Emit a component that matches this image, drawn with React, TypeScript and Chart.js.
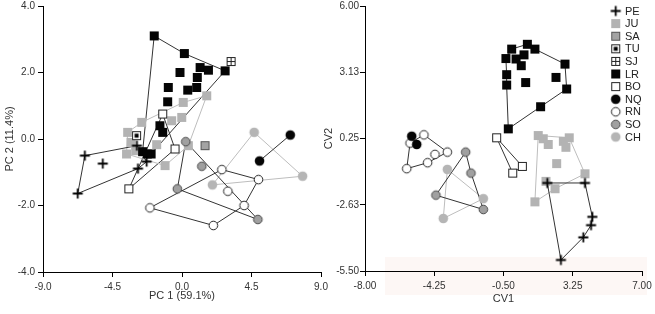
import React, { useEffect, useRef } from 'react';
import { Chart, registerables } from 'chart.js';

Chart.register(...registerables);

type Pt = [number, number];

// ---------- legend / groups ----------
const groupNames = ['PE', 'JU', 'SA', 'TU', 'SJ', 'LR', 'BO', 'NQ', 'RN', 'SO', 'CH'];

// ---------- PCA panel (left) ----------
const pcaXTicks = [-9, -4.5, 0, 4.5, 9];
const pcaXLabels = ['-9.0', '-4.5', '0.0', '4.5', '9.0'];
const pcaYTicks = [-4, -2, 0, 2, 4];
const pcaYLabels = ['-4.0', '-2.0', '0.0', '2.0', '4.0'];

const pcaPE: Pt[] = [[-6.29, -0.5], [-2.92, -0.2], [-2.29, -0.68], [-2.85, -0.89], [-6.75, -1.64], [-5.13, -0.74]];
const pcaPEHull = [0, 1, 2, 3, 4, 0];
const pcaJU: Pt[] = [
  [1.6, 1.3], [0.08, 1.1], [-2.61, 0.5], [-3.52, 0.2], [-3.59, -0.45], [-1.1, -0.8], [0.41, -0.2],
  [-0.67, 0.55], [-0.02, 0.65], [-1.64, -0.17], [-3.0, -0.35], [-3.3, -0.1],
];
const pcaJUHull = [0, 1, 2, 3, 4, 5, 6, 0];
const pcaSA: Pt[] = [[1.49, -0.2]];
const pcaTU: Pt[] = [[-2.94, 0.1]];
const pcaSJ: Pt[] = [[3.18, 2.33]];
const pcaLR: Pt[] = [
  [-1.8, 3.1], [0.15, 2.57], [2.79, 2.05], [-2.0, -0.45], [-2.55, -0.38],
  [-0.13, 2.0], [1.17, 2.15], [1.71, 2.07], [0.99, 1.85], [-0.89, 1.55], [0.37, 1.47],
  [0.95, 1.55], [-0.93, 1.12], [-1.43, 0.4], [-1.25, 0.2], [-2.25, -0.45],
];
const pcaLRHull = [0, 1, 2, 3, 4, 0];
const pcaBO: Pt[] = [[-1.25, 0.75], [-0.45, -0.3], [-3.44, -1.5]];
const pcaBOHull = [0, 1, 2, 0];
const pcaNQ: Pt[] = [[7.01, 0.12], [5.02, -0.66]];
const pcaNQHull = [0, 1];
const pcaRN: Pt[] = [[-2.08, -2.07], [2.58, -0.92], [4.95, -1.22], [4.02, -2.0], [2.03, -2.6], [2.97, -1.57]];
const pcaRNHull = [0, 1, 2, 3, 4, 0];
const pcaSO: Pt[] = [[0.24, -0.08], [-0.3, -1.5], [4.91, -2.42], [1.28, -0.82]];
const pcaSOHull = [0, 1, 2, 0];
const pcaCH: Pt[] = [[4.67, 0.2], [7.81, -1.12], [1.97, -1.38]];
const pcaCHHull = [0, 1, 2, 0];

// ---------- CVA panel (right) ----------
const cvaXTicks = [-8, -4.25, -0.5, 3.25, 7];
const cvaXLabels = ['-8.00', '-4.25', '-0.50', '3.25', '7.00'];
const cvaYTicks = [-5.5, -2.625, 0.25, 3.125, 6];
const cvaYLabels = ['-5.50', '-2.63', '0.25', '3.13', '6.00'];

const cvaPE: Pt[] = [[1.87, -1.68], [3.91, -1.68], [4.31, -3.15], [4.24, -3.51], [3.82, -4.04], [2.61, -5.02]];
const cvaPEHull = [0, 1, 2, 3, 4, 5, 0];
const cvaJU: Pt[] = [
  [1.38, 0.38], [3.06, 0.28], [3.91, -1.28], [2.29, -1.93], [1.2, -2.5],
  [1.65, 0.24], [1.92, -0.01], [2.74, 0.13], [2.88, -0.13], [2.38, -0.84], [1.8, -1.61],
];
const cvaJUHull = [0, 1, 2, 3, 4, 0];
const cvaLR: Pt[] = [
  [-0.37, 3.72], [-0.06, 4.13], [0.79, 4.34], [1.2, 4.13], [2.83, 3.48], [2.92, 2.4],
  [1.51, 1.63], [-0.24, 0.67], [-0.33, 2.57], [-0.33, 3.02],
  [0.18, 3.7], [0.61, 3.88], [0.46, 3.41], [0.7, 2.68], [2.34, 2.9],
];
const cvaLRHull = [0, 1, 2, 3, 4, 5, 6, 7, 8, 9, 0];
const cvaBO: Pt[] = [[-0.87, 0.28], [0.52, -0.96], [0.0, -1.25]];
const cvaBOHull = [0, 1, 2, 0];
const cvaNQ: Pt[] = [[-5.47, 0.35], [-5.2, -0.01]];
const cvaRN: Pt[] = [[-4.81, 0.41], [-3.54, -0.34], [-4.61, -0.8], [-5.74, -1.06], [-5.56, 0.05], [-4.21, -0.44]];
const cvaRNHull = [0, 1, 2, 3, 4, 0];
const cvaSO: Pt[] = [[-2.55, -0.34], [-2.26, -1.25], [-1.59, -2.83], [-4.16, -2.21]];
const cvaSOHull = [0, 1, 2, 3, 0];
const cvaCH: Pt[] = [[-3.54, -1.09], [-1.59, -2.36], [-3.76, -3.22]];
const cvaCHHull = [0, 1, 2, 0];

// ---------- styles ----------
const DARK_LINE = '#333333';
const LIGHT_LINE = '#bdbdbd';
const FONT = '"Liberation Sans", Arial, Helvetica, sans-serif';

const lineColor: Record<string, string> = {
  PE: DARK_LINE, JU: LIGHT_LINE, SA: DARK_LINE, TU: DARK_LINE, SJ: DARK_LINE, LR: DARK_LINE,
  BO: DARK_LINE, NQ: DARK_LINE, RN: DARK_LINE, SO: DARK_LINE, CH: LIGHT_LINE,
};
const drawOrder: Record<string, number> = {
  JU: 20, CH: 19, SO: 18, RN: 17, NQ: 16, BO: 15, LR: 14, SA: 13, TU: 12, SJ: 11, PE: 10,
};

function makeMarker(name: string): HTMLCanvasElement {
  const c = document.createElement('canvas');
  c.width = 13;
  c.height = 13;
  const g = c.getContext('2d')!;
  const m = 6.5;
  const sq = (fill: string, stroke?: string) => {
    g.fillStyle = fill;
    g.fillRect(2, 2, 9, 9);
    if (stroke) {
      g.strokeStyle = stroke;
      g.lineWidth = 1;
      g.strokeRect(2.5, 2.5, 8, 8);
    }
  };
  const circ = (fill: string, stroke?: string) => {
    g.beginPath();
    g.arc(m, m, stroke ? 4.3 : 4.8, 0, Math.PI * 2);
    g.fillStyle = fill;
    g.fill();
    if (stroke) {
      g.strokeStyle = stroke;
      g.lineWidth = 1;
      g.stroke();
    }
  };
  switch (name) {
    case 'PE':
      g.strokeStyle = '#000';
      g.lineWidth = 1.8;
      g.beginPath();
      g.moveTo(1.5, m);
      g.lineTo(11.5, m);
      g.moveTo(m, 1.5);
      g.lineTo(m, 11.5);
      g.stroke();
      break;
    case 'JU':
      sq('#b3b3b3');
      break;
    case 'SA':
      sq('#a3a3a3', '#555555');
      break;
    case 'TU':
      sq('#ffffff', '#222222');
      g.fillStyle = '#000';
      g.fillRect(4.5, 4.5, 4, 4);
      break;
    case 'SJ':
      sq('#ffffff', '#222222');
      g.strokeStyle = '#222';
      g.lineWidth = 1;
      g.beginPath();
      g.moveTo(2.5, m);
      g.lineTo(10.5, m);
      g.moveTo(m, 2.5);
      g.lineTo(m, 10.5);
      g.stroke();
      break;
    case 'LR':
      sq('#050505');
      break;
    case 'BO':
      sq('#ffffff', '#222222');
      break;
    case 'NQ':
      circ('#050505');
      break;
    case 'RN':
      circ('#ffffff', '#222222');
      break;
    case 'SO':
      circ('#a0a0a0', '#4a4a4a');
      break;
    case 'CH':
      circ('#b5b5b5');
      break;
  }
  return c;
}

interface Group { name: string; pts: Pt[]; hull?: number[] }

const pcaGroups: Group[] = [
  { name: 'PE', pts: pcaPE, hull: pcaPEHull },
  { name: 'JU', pts: pcaJU, hull: pcaJUHull },
  { name: 'SA', pts: pcaSA },
  { name: 'TU', pts: pcaTU },
  { name: 'SJ', pts: pcaSJ },
  { name: 'LR', pts: pcaLR, hull: pcaLRHull },
  { name: 'BO', pts: pcaBO, hull: pcaBOHull },
  { name: 'NQ', pts: pcaNQ, hull: pcaNQHull },
  { name: 'RN', pts: pcaRN, hull: pcaRNHull },
  { name: 'SO', pts: pcaSO, hull: pcaSOHull },
  { name: 'CH', pts: pcaCH, hull: pcaCHHull },
];

const cvaGroups: Group[] = [
  { name: 'PE', pts: cvaPE, hull: cvaPEHull },
  { name: 'JU', pts: cvaJU, hull: cvaJUHull },
  { name: 'LR', pts: cvaLR, hull: cvaLRHull },
  { name: 'BO', pts: cvaBO, hull: cvaBOHull },
  { name: 'NQ', pts: cvaNQ },
  { name: 'RN', pts: cvaRN, hull: cvaRNHull },
  { name: 'SO', pts: cvaSO, hull: cvaSOHull },
  { name: 'CH', pts: cvaCH, hull: cvaCHHull },
];

interface PanelOpts {
  groups: Group[];
  xMin: number; xMax: number; yMin: number; yMax: number;
  xTicks: number[]; xLabels: string[]; yTicks: number[]; yLabels: string[];
  xTitle: string; yTitle: string;
  padding: { left: number; top: number; right: number; bottom: number };
  yAxisWidth: number; xAxisHeight: number;
  yTitlePad: number; xTitlePad: number; yTickPad: number;
  plugins: any[];
}

function buildConfig(p: PanelOpts, markers: Record<string, HTMLCanvasElement>): any {
  const datasets: any[] = [];
  for (const g of p.groups) {
    if (g.hull) {
      datasets.push({
        label: g.name + ' hull',
        data: g.hull.map((i) => ({ x: g.pts[i][0], y: g.pts[i][1] })),
        showLine: true,
        borderColor: lineColor[g.name],
        borderWidth: 1,
        pointRadius: 0,
        pointHoverRadius: 0,
        tension: 0,
        fill: false,
        order: 100,
      });
    }
    datasets.push({
      label: g.name,
      data: g.pts.map((q) => ({ x: q[0], y: q[1] })),
      showLine: false,
      pointStyle: markers[g.name],
      pointRadius: 5,
      pointHoverRadius: 5,
      order: drawOrder[g.name],
    });
  }
  const tickFont = { family: FONT, size: 10 };
  const titleFont = { family: FONT, size: 11 };
  return {
    type: 'scatter',
    data: { datasets },
    options: {
      responsive: false,
      animation: false,
      devicePixelRatio: 1,
      events: [],
      layout: { padding: p.padding },
      plugins: { legend: { display: false }, tooltip: { enabled: false } },
      scales: {
        x: {
          type: 'linear',
          min: p.xMin,
          max: p.xMax,
          afterBuildTicks: (s: any) => { s.ticks = p.xTicks.map((v) => ({ value: v })); },
          ticks: {
            callback: (v: any) => { const i = p.xTicks.indexOf(Number(v)); return i >= 0 ? p.xLabels[i] : ''; },
            font: tickFont, color: '#333', padding: 4, maxRotation: 0, autoSkip: false,
          },
          grid: { display: true, drawOnChartArea: false, drawTicks: true, tickLength: 5, color: '#000', lineWidth: 1 },
          border: { display: true, color: '#000', width: 1 },
          title: { display: true, text: p.xTitle, font: titleFont, color: '#333', padding: { top: 0, bottom: p.xTitlePad } },
          afterFit: (s: any) => { s.height = p.xAxisHeight; s.paddingLeft = 0; s.paddingRight = 0; s.paddingTop = 0; s.paddingBottom = 0; },
        },
        y: {
          type: 'linear',
          min: p.yMin,
          max: p.yMax,
          afterBuildTicks: (s: any) => { s.ticks = p.yTicks.map((v) => ({ value: v })); },
          ticks: {
            callback: (v: any) => { const i = p.yTicks.indexOf(Number(v)); return i >= 0 ? p.yLabels[i] : ''; },
            font: tickFont, color: '#333', padding: p.yTickPad, autoSkip: false,
          },
          grid: { display: true, drawOnChartArea: false, drawTicks: true, tickLength: 5, color: '#000', lineWidth: 1 },
          border: { display: true, color: '#000', width: 1 },
          title: { display: true, text: p.yTitle, font: titleFont, color: '#333', padding: { top: p.yTitlePad, bottom: 0 } },
          afterFit: (s: any) => { s.width = p.yAxisWidth; s.paddingLeft = 0; s.paddingRight = 0; s.paddingTop = 0; s.paddingBottom = 0; },
        },
      },
    },
    plugins: p.plugins,
  };
}

const LEFT_W = 330;
const RIGHT_X = 315;
const RIGHT_W = 340;
const H = 314;

export default function App() {
  const leftRef = useRef<HTMLCanvasElement | null>(null);
  const rightRef = useRef<HTMLCanvasElement | null>(null);

  useEffect(() => {
    const markers: Record<string, HTMLCanvasElement> = {};
    groupNames.forEach((n) => { markers[n] = makeMarker(n); });

    const bandPlugin = {
      id: 'band',
      beforeDraw(chart: any) {
        const ctx = chart.ctx;
        ctx.save();
        ctx.fillStyle = '#fdf7f5';
        ctx.fillRect(70, 257, 262, 38);
        ctx.restore();
      },
    };

    const legendPlugin = {
      id: 'groupLegend',
      afterDraw(chart: any) {
        const ctx = chart.ctx;
        ctx.save();
        ctx.font = '11px ' + FONT;
        ctx.fillStyle = '#222';
        ctx.textBaseline = 'middle';
        ctx.textAlign = 'left';
        groupNames.forEach((n, i) => {
          const y = 11 + i * 12.6;
          const m = markers[n];
          ctx.drawImage(m, 300.7 - m.width / 2, y - m.height / 2);
          ctx.fillText(n, 310, y + 0.5);
        });
        ctx.restore();
      },
    };

    const left = new Chart(leftRef.current!, buildConfig({
      groups: pcaGroups,
      xMin: -9, xMax: 9, yMin: -4, yMax: 4,
      xTicks: pcaXTicks, xLabels: pcaXLabels, yTicks: pcaYTicks, yLabels: pcaYLabels,
      xTitle: 'PC 1 (59.1%)', yTitle: 'PC 2 (11.4%)',
      padding: { left: 0, top: 5, right: 9, bottom: 0 },
      yAxisWidth: 43, xAxisHeight: 42,
      yTitlePad: 3, xTitlePad: 11, yTickPad: 3,
      plugins: [],
    }, markers));

    const right = new Chart(rightRef.current!, buildConfig({
      groups: cvaGroups,
      xMin: -8, xMax: 7, yMin: -5.5, yMax: 6,
      xTicks: cvaXTicks, xLabels: cvaXLabels, yTicks: cvaYTicks, yLabels: cvaYLabels,
      xTitle: 'CV1', yTitle: 'CV2',
      padding: { left: 0, top: 5, right: 13, bottom: 0 },
      yAxisWidth: 50, xAxisHeight: 43,
      yTitlePad: 7, xTitlePad: 8, yTickPad: 1,
      plugins: [bandPlugin, legendPlugin],
    }, markers));

    return () => { left.destroy(); right.destroy(); };
  }, []);

  return (
    <div style={{ position: 'fixed', left: 0, top: 0, width: 655, height: H, background: '#fff' }}>
      <canvas ref={leftRef} width={LEFT_W} height={H}
        style={{ position: 'absolute', left: 0, top: 0, width: LEFT_W, height: H }} />
      <canvas ref={rightRef} width={RIGHT_W} height={H}
        style={{ position: 'absolute', left: RIGHT_X, top: 0, width: RIGHT_W, height: H }} />
    </div>
  );
}
